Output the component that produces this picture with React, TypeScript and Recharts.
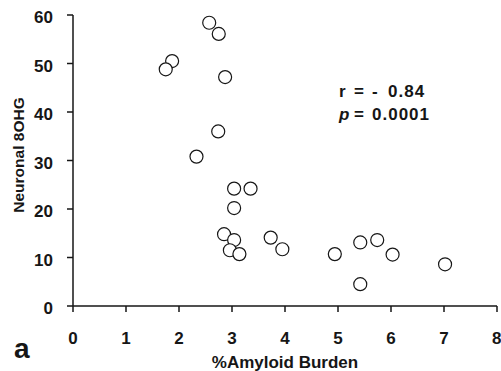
import React from 'react';
import { ScatterChart, Scatter, XAxis, YAxis } from 'recharts';

// % amyloid burden vs neuronal 8OHG
const amyloid = [2.57, 2.75, 1.87, 1.75, 2.87, 2.74, 2.33, 3.04, 3.35, 3.04, 2.85, 3.04, 2.96, 3.14, 3.73, 3.95, 4.94, 5.42, 5.42, 5.74, 6.03, 7.02];
const ohg = [58.4, 56.1, 50.5, 48.8, 47.2, 36.0, 30.8, 24.2, 24.2, 20.2, 14.8, 13.6, 11.5, 10.7, 14.1, 11.7, 10.7, 13.1, 4.5, 13.6, 10.6, 8.6];

const xTicks = [0, 1, 2, 3, 4, 5, 6, 7, 8];
const yTicks = [0, 10, 20, 30, 40, 50, 60];

const points = amyloid.map((x, i) => ({ x, y: ohg[i] }));

const FONT = '"Liberation Sans", Arial, Helvetica, sans-serif';
const INK = '#161616';

const Ring = (props: any) => (
    <circle cx={props.cx} cy={props.cy} r={6.5} fill="#fff" stroke={INK} strokeWidth={1.2} />
);

export default function App() {
    return (
        <div style={{ position: 'absolute', left: 0, top: 0, width: 501, height: 371, background: '#fff' }}>
            <ScatterChart width={501} height={371} margin={{ top: 15, right: 4, bottom: 35, left: 13 }}>
                <XAxis
                    type="number"
                    dataKey="x"
                    domain={[0, 8]}
                    ticks={xTicks}
                    height={30}
                    tickSize={6}
                    tickMargin={20}
                    stroke={INK}
                    strokeWidth={1.5}
                    tick={{ fill: INK, fontSize: 17, fontWeight: 'bold', fontFamily: FONT }}
                />
                <YAxis
                    type="number"
                    dataKey="y"
                    domain={[0, 60]}
                    ticks={yTicks}
                    width={60}
                    tickSize={6}
                    tickMargin={14}
                    stroke={INK}
                    strokeWidth={1.5}
                    tick={{ fill: INK, fontSize: 17, fontWeight: 'bold', fontFamily: FONT, dy: 2 }}
                />
                <Scatter data={points} shape={Ring} isAnimationActive={false} />
                <text
                    x={18.5}
                    y={155}
                    transform="rotate(-90, 18.5, 155)"
                    textAnchor="middle"
                    dominantBaseline="central"
                    fontFamily={FONT}
                    fontWeight="bold"
                    fontSize={15.5}
                    fill={INK}
                >
                    Neuronal 8OHG
                </text>
                <text x={285} y={368} textAnchor="middle" fontFamily={FONT} fontWeight="bold" fontSize={17} fill={INK}>
                    %Amyloid Burden
                </text>
                <text x={14} y={358} fontFamily={FONT} fontWeight="bold" fontSize={28} fill={INK}>
                    a
                </text>
                <text y={97} fontFamily={FONT} fontWeight="bold" fontSize={17} fill={INK} letterSpacing={1}>
                    <tspan x={339}>r</tspan>
                    <tspan x={354}>=</tspan>
                    <tspan x={372}>-</tspan>
                    <tspan x={388}>0.84</tspan>
                </text>
                <text y={120} fontFamily={FONT} fontWeight="bold" fontSize={17} fill={INK} letterSpacing={1}>
                    <tspan x={339} fontStyle="italic">p</tspan>
                    <tspan x={354}>=</tspan>
                    <tspan x={372}>0.0001</tspan>
                </text>
            </ScatterChart>
        </div>
    );
}
